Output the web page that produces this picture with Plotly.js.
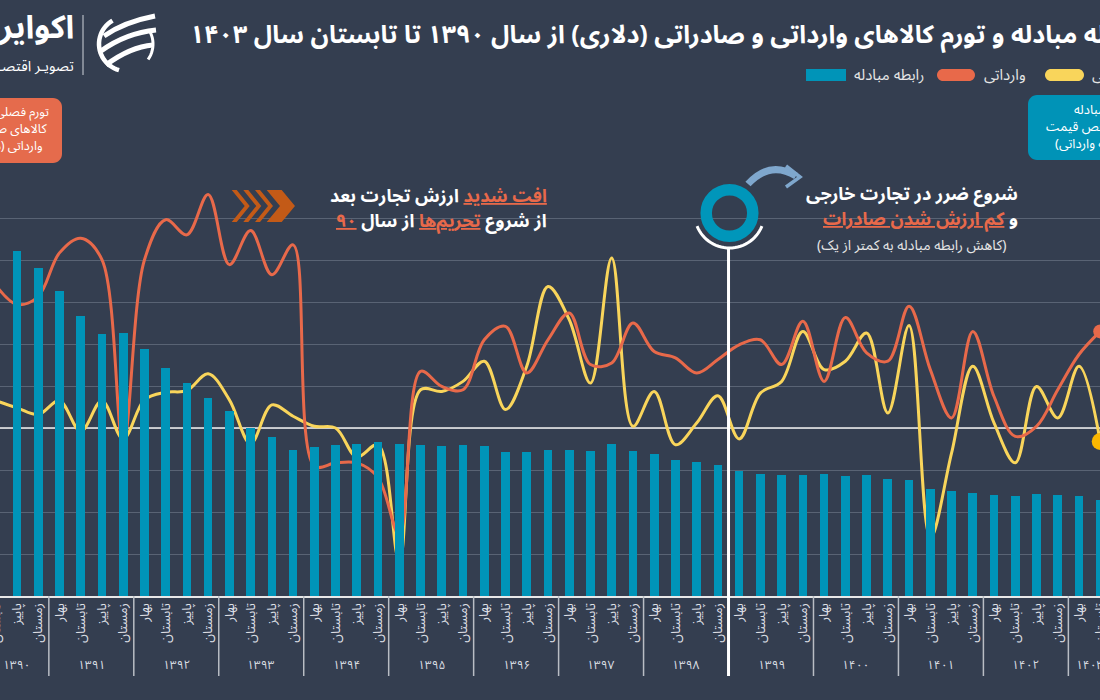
<!DOCTYPE html>
<html>
<head>
<meta charset="utf-8">
<script src="https://cdn.plot.ly/plotly-3.0.1.min.js"></script>
<style>
  html, body { margin:0; padding:0; width:1100px; height:700px; overflow:hidden; background:#343e50; }
  #chart { position:absolute; left:-150px; top:0; width:1400px; height:700px; }
</style>
</head>
<body>
<div id="chart"></div>
<script>
// ---------------- DATA ----------------
const years = ['۱۳۹۰','۱۳۹۱','۱۳۹۲','۱۳۹۳','۱۳۹۴','۱۳۹۵','۱۳۹۶','۱۳۹۷','۱۳۹۸','۱۳۹۹','۱۴۰۰','۱۴۰۱','۱۴۰۲','۱۴۰۳'];
const seasons = ['بهار','تابستان','پاییز','زمستان'];
const firstSeason   = [1,0,0,0,0,0,0,0,0,0,0,0,0,0];   // series starts in summer 1390
const quartersInYear = [3,4,4,4,4,4,4,4,4,4,4,4,4,2];  // ends in summer 1403

// Terms of trade (export price index / import price index)
const termsOfTrade = [2.82, 2.74, 2.60, 2.42, 2.22, 2.08, 2.09, 1.96, 1.81, 1.69, 1.57, 1.47, 1.33,
  1.26, 1.16, 1.18, 1.20, 1.21, 1.22, 1.21, 1.20, 1.19, 1.20, 1.19, 1.14, 1.14, 1.16, 1.16, 1.15,
  1.21, 1.15, 1.13, 1.08, 1.06, 1.04, 0.99, 0.97, 0.96, 0.96, 0.97, 0.95, 0.96, 0.93, 0.92, 0.85,
  0.83, 0.82, 0.80, 0.79, 0.81, 0.80, 0.79, 0.76];

// Quarterly (dollar) inflation of imported goods, %
const importInflation = [34, 29.4, 31.3, 41.7, 45.2, 40.1, -3.6, 40.0, 49.6, 46.0, 55.6, 38.9, 47.0,
  36.5, 43.6, -9.1, -8.3, -8.3, -11.8, -25.4, 13.5, 9.9, 9.1, 21.0, 24.2, 13.1, 21.0, 27.4, 15.1,
  15.5, 25.0, 18.2, 16.7, 13.1, 16.3, 19.8, 21.0, 15.1, 25.4, 11.1, 26.3, 17.9, 15.9, 29.0, 13.9,
  2.4, 23.0, 7.5, -2.0, 0.4, 9.1, 17.5, 23.0];

// Quarterly (dollar) inflation of exported goods, %
const exportInflation = [6.5, 4.8, 3.2, 6.5, -0.8, 6.5, -2.6, 6.7, 8.5, 8.9, 12.9, 6.7, -3.7,
  5.5, 2.8, 0.4, 0.0, -6.9, -4.0, -31.7, 9.1, 8.7, 11.1, 15.9, 4.4, 14.7, 33.7, 25.8, 10.7,
  40.5, 0.4, 8.7, -4.0, 1.2, 7.7, -2.6, 8.3, 11.1, 23.0, 13.9, 15.9, 22.6, 3.6, 24.4, -26.2,
  -6.0, 14.7, 1.2, -8.3, 9.9, 2.4, 14.7, -3.2];

// ---------------- DERIVED ----------------
const quarterLabels = [];
const quarterYearIdx = [];
years.forEach((y, yi) => {
  for (let q = 0; q < quartersInYear[yi]; q++) {
    quarterLabels.push(seasons[firstSeason[yi] + q]); quarterYearIdx.push(yi);
  }
});
const qIdx = quarterLabels.map((_, i) => i);
const last = qIdx.length - 1;

// ---------------- GEOMETRY (page pixels) ----------------
const FONT = "'Noto Sans Arabic', 'DejaVu Sans', sans-serif";
const RLM = '\u200F';
const rtl = s => RLM + s + RLM;
const DIV_LEFT = -150, DIV_W = 1400, DIV_H = 700;
const PL = -60, PR = 1140, PT = 176, PB = 596;
const X0 = -4.26, DX = 21.24;               // page x of first quarter and spacing
const xRange = [(PL - X0) / DX, (PR - X0) / DX];
const px = x => (x - PL) / (PR - PL);
const py = y => (PB - y) / (PB - PT);
const P = (x, y) => px(x).toFixed(5) + ',' + py(y).toFixed(5);
const poly = (pts, close) => 'M' + pts.map(p => P(p[0], p[1])).join('L') + (close ? 'Z' : '');
function roundRect(x0, y0, x1, y1, r) {
  const k = 0.5523 * r;
  return 'M' + P(x0 + r, y0) + 'L' + P(x1 - r, y0) +
    'C' + P(x1 - r + k, y0) + ' ' + P(x1, y0 + r - k) + ' ' + P(x1, y0 + r) +
    'L' + P(x1, y1 - r) +
    'C' + P(x1, y1 - r + k) + ' ' + P(x1 - r + k, y1) + ' ' + P(x1 - r, y1) +
    'L' + P(x0 + r, y1) +
    'C' + P(x0 + r - k, y1) + ' ' + P(x0, y1 - r + k) + ' ' + P(x0, y1 - r) +
    'L' + P(x0, y0 + r) +
    'C' + P(x0, y0 + r - k) + ' ' + P(x0 + r - k, y0) + ' ' + P(x0 + r, y0) + 'Z';
}
function arc(cx, cy, r, a0, a1, n) {
  const pts = [];
  for (let i = 0; i <= n; i++) {
    const a = (a0 + (a1 - a0) * i / n) * Math.PI / 180;
    pts.push([cx + r * Math.cos(a), cy + r * Math.sin(a)]);
  }
  return poly(pts, false);
}

// ---------------- COLORS ----------------
const BG = '#343e50';
const TEAL = '#0094b8';
const ORANGE = '#e8694a';
const YELLOW = '#f9d55b';
const AMBER = '#fbb700';
const GRID = '#596374';

// ---------------- TRACES ----------------
const traces = [
  { type: 'bar', x: qIdx, y: termsOfTrade, yaxis: 'y2', width: 0.41,
    marker: { color: TEAL }, name: 'رابطه مبادله', hoverinfo: 'skip' },
  { type: 'scatter', mode: 'lines', x: xRange, y: [0, 0], line: { color: '#f2f2f2', width: 1.6 },
    hoverinfo: 'skip' },
  { type: 'scatter', mode: 'lines', x: qIdx, y: exportInflation, name: 'صادراتی',
    line: { color: YELLOW, width: 3, shape: 'spline', smoothing: 1 } },
  { type: 'scatter', mode: 'lines', x: qIdx, y: importInflation, name: 'وارداتی',
    line: { color: ORANGE, width: 3, shape: 'spline', smoothing: 1 } },
  { type: 'scatter', mode: 'markers', x: [qIdx[last]], y: [importInflation[last]],
    marker: { color: ORANGE, size: 14 }, hoverinfo: 'skip' },
  { type: 'scatter', mode: 'markers', x: [qIdx[last]], y: [exportInflation[last]],
    marker: { color: AMBER, size: 17 }, hoverinfo: 'skip' }
];

// ---------------- ANNOTATIONS ----------------
const ann = [];
const txt = (x, y, text, opts) => ann.push(Object.assign({
  xref: 'paper', yref: 'paper', x: px(x), y: py(y), text: text, showarrow: false,
  xanchor: 'right', yanchor: 'middle', font: { family: FONT, size: 13, color: '#ffffff' }
}, opts || {}));

// title
txt(188, 35, 'رابطه مبادله و تورم کالاهای وارداتی و صادراتی (دلاری) از سال ۱۳۹۰ تا تابستان سال ۱۴۰۳',
  { xanchor: 'left', font: { family: FONT, size: 25, color: '#ffffff', weight: 'bold' } });
// logo text
txt(76, 28, 'اکوایران', { font: { family: FONT, size: 32, color: '#ffffff', weight: 'bold' } });
txt(76, 66, 'تصویـر اقتصـاد', { font: { family: FONT, size: 14.5, color: '#ffffff' } });
// legend texts
txt(852, 75, 'رابطه مبادله', { xanchor: 'left', font: { family: FONT, size: 15, color: '#e6e6e6' } });
txt(982, 75, 'وارداتی', { xanchor: 'left', font: { family: FONT, size: 15, color: '#e6e6e6' } });
txt(1090, 75, 'صادراتی', { xanchor: 'left', font: { family: FONT, size: 15, color: '#e6e6e6' } });
// left box
txt(51, 112, rtl('تورم فصلی دلاری'), { font: { family: FONT, size: 12.5, color: '#ffffff' } });
txt(49, 129, rtl('کالاهای صادراتی و'), { font: { family: FONT, size: 12.5, color: '#ffffff' } });
txt(45, 146, rtl('وارداتی (درصد)'), { font: { family: FONT, size: 12.5, color: '#ffffff' } });
// right box
txt(1104, 110, rtl('رابطه مبادله'), { xanchor: 'center', font: { family: FONT, size: 13, color: '#ffffff' } });
txt(1104, 127, rtl('(نسبت شاخص قیمت'), { xanchor: 'center', font: { family: FONT, size: 13, color: '#ffffff' } });
txt(1104, 144, rtl('صادراتی به وارداتی)'), { xanchor: 'center', font: { family: FONT, size: 13, color: '#ffffff' } });
// sanctions note
const U = s => '<span style="color:' + ORANGE + ';text-decoration:underline">' + s + '</span>';
const boldF = { family: FONT, size: 18, color: '#ffffff', weight: 'bold' };
txt(549, 196, U('افت شدید') + ' ارزش تجارت بعد', { font: boldF });
txt(549, 221, 'از شروع ' + U('تحریم‌ها') + ' از سال ' + U('۹۰'), { font: boldF });
// loss note
txt(1020, 194, 'شروع ضرر در تجارت خارجی', { font: boldF });
txt(1020, 219, 'و ' + U('کم ارزش شدن صادرات'), { font: boldF });
txt(1008, 245, rtl('(کاهش رابطه مبادله به کمتر از یک)'), { font: { family: FONT, size: 14, color: '#e6e6e6' } });

// year labels under groups
years.forEach((y, yi) => {
  const idx = qIdx.filter(i => quarterYearIdx[i] === yi);
  const c = idx.reduce((a, b) => a + b, 0) / idx.length;
  ann.push({ xref: 'x', yref: 'paper', x: c, y: py(665), text: y, showarrow: false,
    xanchor: 'center', yanchor: 'middle', font: { family: FONT, size: 12, color: '#d9dce1' } });
});

// ---------------- SHAPES ----------------
const shapes = [];
const pathShape = (path, o) => shapes.push(Object.assign({ type: 'path', xref: 'paper', yref: 'paper', path: path, layer: 'above' }, o));

// year separators
years.forEach((y, yi) => {
  if (yi === 0) return;
  const first = quarterYearIdx.indexOf(yi);
  const special = (y === '۱۳۹۹');
  shapes.push({ type: 'line', xref: 'x', yref: 'paper', x0: first - 0.5, x1: first - 0.5,
    y0: special ? py(248) : 0, y1: py(676),
    line: { color: special ? '#ffffff' : '#b9bdc4', width: special ? 3 : 1.5 }, layer: 'above' });
});

// legend swatches
pathShape(roundRect(806, 69, 846, 81, 0.01), { fillcolor: TEAL, line: { width: 0 } });
pathShape(roundRect(937, 69, 975, 81, 6), { fillcolor: ORANGE, line: { width: 0 } });
pathShape(roundRect(1045, 69, 1084, 81, 6), { fillcolor: YELLOW, line: { width: 0 } });

// left / right boxes
pathShape(roundRect(-60, 98, 62, 163, 9), { fillcolor: '#e56b4c', line: { width: 0 } });
pathShape(roundRect(1028, 95, 1180, 160, 9), { fillcolor: '#0093b7', line: { width: 0 } });

// logo
shapes.push({ type: 'line', xref: 'paper', yref: 'paper', x0: px(83), x1: px(83), y0: py(15), y1: py(75),
  line: { color: '#cfd3da', width: 1 } });
pathShape(arc(126, 44, 27, 105, 240, 24), { line: { color: '#ffffff', width: 4.5 } });
pathShape(arc(126, 44, 27, 330, 395, 12), { line: { color: '#ffffff', width: 3 } });
pathShape('M' + P(104, 36) + 'Q' + P(124, 22) + ' ' + P(155, 16), { line: { color: '#ffffff', width: 5 } });
pathShape('M' + P(101, 51) + 'Q' + P(126, 33) + ' ' + P(156, 30), { line: { color: '#ffffff', width: 5 } });
pathShape('M' + P(106, 65) + 'Q' + P(130, 47) + ' ' + P(153, 45), { line: { color: '#ffffff', width: 5 } });

// chevrons
const CHEV = '#c35a17';
[231.7, 243.3, 255].forEach(a => {
  pathShape(poly([[a, 190], [a + 5, 190], [a + 18, 206], [a + 5, 222], [a, 222], [a + 13, 206]], true),
    { fillcolor: CHEV, line: { width: 0 } });
});
pathShape(poly([[266.7, 190], [281.7, 190], [295, 206], [281.7, 222], [266.7, 222], [280, 206]], true),
  { fillcolor: CHEV, line: { width: 0 } });

// ring icon + white arc
shapes.push({ type: 'circle', xref: 'paper', yref: 'paper', x0: px(729.5 - 23.3), x1: px(729.5 + 23.3),
  y0: py(213 + 23.3), y1: py(213 - 23.3), line: { color: '#0096ba', width: 11.5 }, layer: 'above' });
pathShape(arc(729.5, 213, 35, 22, 158, 30), { line: { color: '#ffffff', width: 3 } });

// curved arrow
pathShape('M' + P(748, 184) + 'Q' + P(770, 160) + ' ' + P(796, 176), { line: { color: '#7fa7cd', width: 7 } });
pathShape(poly([[786, 166], [800, 177], [786, 187]], false), { line: { color: '#7fa7cd', width: 3.5 } });

// ---------------- LAYOUT ----------------
const layout = {
  width: DIV_W, height: DIV_H,
  margin: { l: PL - DIV_LEFT, r: DIV_LEFT + DIV_W - PR, t: PT, b: DIV_H - PB, pad: 0 },
  paper_bgcolor: BG, plot_bgcolor: BG,
  showlegend: false,
  font: { family: FONT, color: '#ffffff' },
  xaxis: {
    range: xRange, tickmode: 'array', tickvals: qIdx, ticktext: quarterLabels,
    tickangle: -90, ticks: '', ticklen: 0, tickfont: { family: FONT, size: 13, color: '#dcdfe4' },
    showline: true, linecolor: '#e8e8e8', linewidth: 2, showgrid: false, zeroline: false, fixedrange: true
  },
  yaxis: {
    range: [-40, 60], dtick: 10, showgrid: true, gridcolor: GRID, gridwidth: 1,
    zeroline: false, showticklabels: false, ticks: '', showline: false, fixedrange: true
  },
  yaxis2: {
    overlaying: 'y', range: [0, (PB - PT) / 126], visible: false, showgrid: false, zeroline: false, fixedrange: true
  },
  bargap: 0,
  annotations: ann,
  shapes: shapes
};

Plotly.newPlot('chart', traces, layout, { displayModeBar: false, staticPlot: true });
</script>
</body>
</html>
